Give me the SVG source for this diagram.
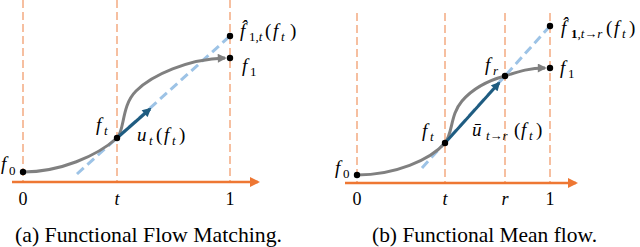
<svg xmlns="http://www.w3.org/2000/svg" width="640" height="247" viewBox="0 0 640 247">
<defs>
<style>
.vline{stroke:#F6BFA0;stroke-width:2;stroke-dasharray:8 4;fill:none}
.axis{stroke:#EE7733;stroke-width:2.6;fill:none}
.tan{stroke:#9DC3E6;stroke-width:3;stroke-dasharray:9 5;fill:none}
.curve{stroke:#808080;stroke-width:3;fill:none}
.vec{stroke:#1F5C80;stroke-width:3;fill:none}
.dot{fill:#000}
text{font-family:'Liberation Serif','Times New Roman',Times,Tinos,'Nimbus Roman','Noto Serif','DejaVu Serif',serif}
</style>
<marker id="aOr" viewBox="0 0 10 10" refX="8" refY="5" markerWidth="11" markerHeight="10" markerUnits="userSpaceOnUse" orient="auto"><path d="M0,0 L10,5 L0,10 z" fill="#EE7733"/></marker>
<marker id="aGr" viewBox="0 0 10 10" refX="8" refY="5" markerWidth="10" markerHeight="9" markerUnits="userSpaceOnUse" orient="auto"><path d="M0,0 L10,5 L0,10 z" fill="#808080"/></marker>
<marker id="aBl" viewBox="0 0 10 10" refX="8" refY="5" markerWidth="10" markerHeight="9" markerUnits="userSpaceOnUse" orient="auto"><path d="M0,0 L10,5 L0,10 z" fill="#1F5C80"/></marker>
</defs>
<rect width="640" height="247" fill="#fff"/>

<g id="connectors">
<line class="vline" x1="23" y1="0" x2="23" y2="182"/>
<line class="vline" x1="117" y1="0" x2="117" y2="182"/>
<line class="vline" x1="230" y1="0" x2="230" y2="182"/>
<line class="axis" x1="12" y1="182" x2="258" y2="182" marker-end="url(#aOr)"/>
<line class="tan" x1="77" y1="174" x2="230" y2="36"/>
<path class="curve" d="M23,172 C60,172 97,156 117,138"/>
<path class="curve" d="M117,138 C125,130 121,106 136,91 C152,75 188,59 225,58" marker-end="url(#aGr)"/>
<line class="vec" x1="117" y1="138" x2="150" y2="109" marker-end="url(#aBl)"/>
<line class="vline" x1="357" y1="13" x2="357" y2="183"/>
<line class="vline" x1="445" y1="13" x2="445" y2="183"/>
<line class="vline" x1="505" y1="13" x2="505" y2="183"/>
<line class="vline" x1="550" y1="13" x2="550" y2="183"/>
<line class="axis" x1="345" y1="183" x2="576" y2="183" marker-end="url(#aOr)"/>
<line class="tan" x1="422" y1="168" x2="550" y2="26"/>
<path class="curve" d="M357,175 C395,175 430,160 445,143"/>
<path class="curve" d="M445,143 C453,133 450,115 462,101 C475,86 490,80 505,76 C520,71 530,68 545,68" marker-end="url(#aGr)"/>
<line class="vec" x1="445" y1="143" x2="499" y2="83" marker-end="url(#aBl)"/>
</g>

<g font-style="italic" font-size="19" fill="#000">
<g id="node-a-f0"><circle class="dot" cx="23" cy="172" r="3.2"/><text x="1" y="170">f</text><text x="9" y="175" font-size="13" font-style="normal">0</text></g>
<g id="node-a-ft"><circle class="dot" cx="117" cy="138" r="3.2"/><text x="96" y="131">f</text><text x="104" y="135" font-size="13">t</text></g>
<g id="node-a-u"><text x="137" y="141">u</text><text x="149" y="145" font-size="13">t</text><text x="156" y="141" font-style="normal">(</text><text x="164" y="141">f</text><text x="172" y="145" font-size="13">t</text><text x="179" y="141" font-style="normal">)</text></g>
<g id="node-a-f1hat"><circle class="dot" cx="230" cy="36" r="3.2"/><text x="240" y="37">f&#x302;</text><text x="249" y="41" font-size="13"><tspan font-style="normal">1,</tspan>t</text><text x="265" y="37" font-style="normal">(</text><text x="273" y="37">f</text><text x="281" y="41" font-size="13">t</text><text x="290" y="37" font-style="normal">)</text></g>
<g id="node-a-f1"><circle class="dot" cx="230" cy="58" r="3.2"/><text x="242" y="72">f</text><text x="250" y="76" font-size="13" font-style="normal">1</text></g>
<g id="node-a-axis" font-size="18" text-anchor="middle"><text x="23" y="205" font-style="normal">0</text><text x="117" y="205">t</text><text x="230" y="205" font-style="normal">1</text></g>

<g id="node-b-f0"><circle class="dot" cx="357" cy="175" r="3.2"/><text x="335" y="174">f</text><text x="343" y="178" font-size="13" font-style="normal">0</text></g>
<g id="node-b-ft"><circle class="dot" cx="445" cy="143" r="3.2"/><text x="422" y="137">f</text><text x="430" y="141" font-size="13">t</text></g>
<g id="node-b-fr"><circle class="dot" cx="505" cy="76" r="3.2"/><text x="485" y="71">f</text><text x="493" y="75" font-size="13">r</text></g>
<g id="node-b-u"><text x="472" y="136">u&#x304;</text><text x="486" y="140" font-size="13">t→r</text><text x="514" y="136" font-style="normal">(</text><text x="521" y="136">f</text><text x="529" y="140" font-size="13">t</text><text x="536" y="136" font-style="normal">)</text></g>
<g id="node-b-f1hat"><circle class="dot" cx="550" cy="26" r="3.2"/><text x="561" y="34">f&#x302;</text><text x="571" y="38" font-size="13"><tspan font-style="normal" font-weight="bold">1</tspan><tspan font-style="normal">,</tspan>t→r</text><text x="606" y="34" font-style="normal">(</text><text x="614" y="34">f</text><text x="622" y="38" font-size="13">t</text><text x="629" y="34" font-style="normal">)</text></g>
<g id="node-b-f1"><circle class="dot" cx="550" cy="68" r="3.2"/><text x="560" y="74">f</text><text x="568" y="78" font-size="13" font-style="normal">1</text></g>
<g id="node-b-axis" font-size="18" text-anchor="middle"><text x="357" y="205" font-style="normal">0</text><text x="445" y="205">t</text><text x="505" y="205">r</text><text x="550" y="205" font-style="normal">1</text></g>
</g>

<g id="captions" font-size="21" fill="#000">
<text x="15" y="242" textLength="267" lengthAdjust="spacingAndGlyphs">(a) Functional Flow Matching.</text>
<text x="372" y="242" textLength="225" lengthAdjust="spacingAndGlyphs">(b) Functional Mean flow.</text>
</g>
</svg>
